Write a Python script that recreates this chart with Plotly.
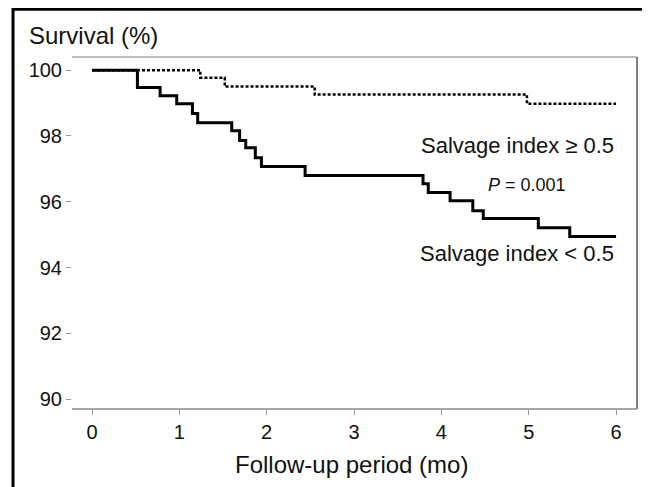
import plotly.graph_objects as go

# Salvage index < 0.5 (solid)
low_time = [0, 0.52, 0.78, 0.97, 1.15, 1.21, 1.60, 1.69, 1.76, 1.87, 1.94, 2.44, 3.79, 3.85, 4.10, 4.36, 4.48, 5.11, 5.47, 6.0]
low_surv = [100, 99.47, 99.22, 98.98, 98.68, 98.40, 98.16, 97.86, 97.64, 97.34, 97.07, 96.80, 96.55, 96.28, 96.03, 95.73, 95.49, 95.21, 94.94, 94.94]

# Salvage index >= 0.5 (dotted)
high_time = [0, 1.24, 1.52, 2.55, 4.98, 6.0]
high_surv = [100, 99.77, 99.50, 99.26, 98.98, 98.98]

x_ticks = [0, 1, 2, 3, 4, 5, 6]
y_ticks = [90, 92, 94, 96, 98, 100]

FONT = "Liberation Sans, Arial, sans-serif"
TXT = "#111111"

fig = go.Figure()
fig.add_trace(go.Scatter(x=high_time, y=high_surv, mode="lines", line_shape="hv",
                         line=dict(color="black", width=2.5, dash="3px,2px"),
                         showlegend=False, hoverinfo="skip"))
fig.add_trace(go.Scatter(x=low_time, y=low_surv, mode="lines", line_shape="hv",
                         line=dict(color="black", width=3),
                         showlegend=False, hoverinfo="skip"))

fig.update_layout(
    width=642, height=479,
    margin=dict(l=64, r=13, t=49, b=78),
    paper_bgcolor="white", plot_bgcolor="white",
    font=dict(family=FONT, color=TXT, size=20),
    xaxis=dict(range=[-0.229, 6.24], tickvals=x_ticks, showgrid=False, zeroline=False,
               showline=False, ticks="outside", ticklen=5, tickcolor="#999", tickwidth=1,
               tickfont=dict(size=20, family=FONT, color=TXT)),
    yaxis=dict(range=[89.70, 100.40], tickvals=y_ticks, showgrid=False, zeroline=False,
               showline=False, ticks="outside", ticklen=5, tickcolor="#999", tickwidth=1,
               tickfont=dict(size=20, family=FONT, color=TXT)),
    shapes=[
        # plot box
        dict(type="line", xref="paper", yref="paper", x0=0, x1=1, y0=1, y1=1,
             line=dict(color="#aaaaaa", width=1.5)),
        dict(type="line", xref="paper", yref="paper", x0=1, x1=1, y0=0, y1=1,
             line=dict(color="#555555", width=1.5)),
        dict(type="line", xref="paper", yref="paper", x0=0, x1=1, y0=0, y1=0,
             line=dict(color="#888888", width=1.5)),
        # outer frame (black)
        dict(type="line", xref="paper", yref="paper", x0=-0.1044, x1=1.1, y0=1.136, y1=1.136,
             line=dict(color="black", width=3)),
        dict(type="line", xref="paper", yref="paper", x0=-0.1044, x1=-0.1044, y0=1.14, y1=-0.3,
             line=dict(color="black", width=3)),
    ],
    annotations=[
        dict(text="Survival (%)", xref="paper", yref="paper", x=-0.0796, y=1.0625,
             xanchor="left", yanchor="middle", showarrow=False,
             font=dict(size=24, family=FONT, color=TXT)),
        dict(text="Follow-up period (mo)", xref="paper", yref="paper", x=0.4947, y=-0.159,
             xanchor="center", yanchor="middle", showarrow=False,
             font=dict(size=24, family=FONT, color=TXT)),
        dict(text="Salvage index ≥ 0.5", xref="x", yref="y", x=6.0, y=97.70,
             xanchor="right", yanchor="middle", showarrow=False,
             font=dict(size=22, family=FONT, color=TXT)),
        dict(text="Salvage index < 0.5", xref="x", yref="y", x=6.0, y=94.42,
             xanchor="right", yanchor="middle", showarrow=False,
             font=dict(size=22, family=FONT, color=TXT)),
        dict(text="<i>P</i> = 0.001", xref="x", yref="y", x=4.98, y=96.5,
             xanchor="center", yanchor="middle", showarrow=False,
             font=dict(size=18, family=FONT, color=TXT)),
    ],
)

fig.write_html("out.html")
